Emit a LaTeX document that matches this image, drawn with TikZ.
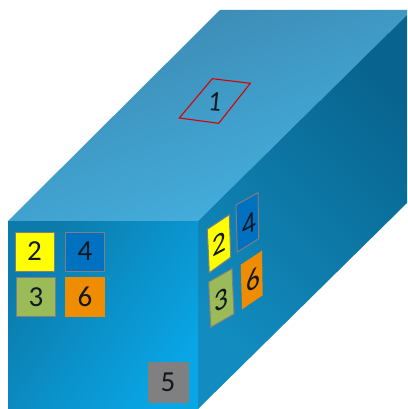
\documentclass[tikz,border=0pt]{standalone}
\usepackage{fontspec}
\setmainfont{Carlito}
\definecolor{frameg}{HTML}{7F7F7F}
\definecolor{yel}{HTML}{FFFF00}
\definecolor{blu}{HTML}{0070C0}
\definecolor{grn}{HTML}{9BBB59}
\definecolor{org}{HTML}{F08C00}
\definecolor{gry}{HTML}{808080}
\definecolor{digit}{HTML}{101820}
\tikzset{x=1pt,y=-1pt,
  tag/.style={draw=frameg,line width=1pt,inner sep=0pt,text=digit,font=\fontsize{29}{29}\selectfont},
  plain/.style={tag,draw=none},
  patch/.style={draw=frameg,line width=1pt},
  num/.style={transform shape,inner sep=0pt,text=digit,font=\fontsize{30}{30}\selectfont}}
\newcommand{\sidenum}[4]{\begin{scope}[shift={(#2,#3)},cm={.92,.5,-.02,1.0,(0,0)}]\node[num] (#1) at (0,0) {#4};\end{scope}}
\begin{document}
\begin{tikzpicture}
\useasboundingbox (0,0) rectangle (407,409);
\shade[left color={rgb,255:red,60;green,136;blue,176},right color={rgb,255:red,68;green,178;blue,226},shading angle=20]
  (8,221) -- (220,10) -- (407,10) -- (407,15) -- (198,221) -- cycle;
\shade[left color={rgb,255:red,18;green,140;blue,192},right color={rgb,255:red,8;green,100;blue,142},shading angle=135]
  (198,221) -- (407,15) -- (407,203) -- (198,409) -- cycle;
\shade[left color={rgb,255:red,12;green,122;blue,170},right color={rgb,255:red,9;green,166;blue,230},shading angle=55]
  (8,221) -- (198,221) -- (198,409) -- (8,409) -- cycle;
% front face
\node[tag,fill=yel,minimum width=39pt,minimum height=39pt] (f2) at (34.5,251.5) {2};
\node[tag,fill=blu,minimum width=39.5pt,minimum height=39pt] (f4) at (85,251.5) {4};
\node[tag,fill=grn,minimum width=39.5pt,minimum height=39.5pt] (f3) at (36,297) {3};
\node[plain,fill=org,minimum width=40pt,minimum height=40pt] (f6) at (85,296.5) {6};
\node[plain,fill=gry,minimum width=41pt,minimum height=41pt] (f5) at (168,382.5) {5};
% side face
\draw[patch,fill=yel] (207.3,229.3) -- (229.3,214.7) -- (230.7,257.3) -- (209.3,272.7) -- cycle;
\draw[patch,fill=blu] (236,205) -- (258,192.7) -- (258.7,238.7) -- (237.3,252) -- cycle;
\draw[patch,fill=grn] (208.7,282) -- (232,268.7) -- (234,314) -- (210.7,327.3) -- cycle;
\fill[org] (240.7,264.7) -- (262,250.7) -- (262.7,295.3) -- (242,309.3) -- cycle;
\sidenum{s2}{219}{244}{2}
\sidenum{s4}{249}{224}{4}
\sidenum{s3}{221}{300}{3}
\sidenum{s6}{253}{280}{6}
% top face
\draw[red!85!black,line width=1.1pt] (212.3,78.7) -- (250.3,83.3) -- (218.7,123.3) -- (179.3,118) -- cycle;
\begin{scope}[shift={(215,102)},cm={.85,-.06,.1,.95,(0,0)}]
\node[num] (t1) at (0,0) {1};
\end{scope}
\end{tikzpicture}
\end{document}
